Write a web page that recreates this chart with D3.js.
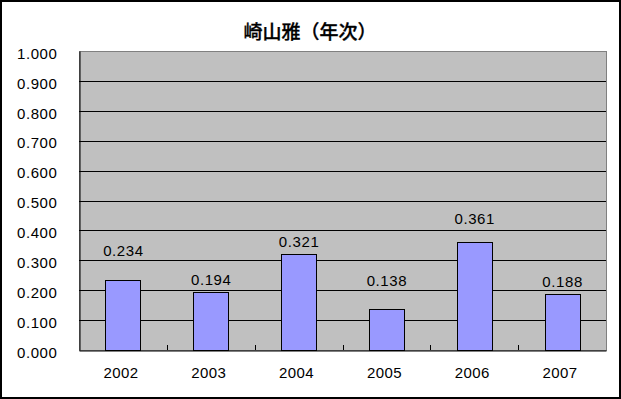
<!DOCTYPE html>
<html>
<head>
<meta charset="utf-8">
<script src="https://cdn.jsdelivr.net/npm/d3@7"></script>
<style>
    body { margin: 0; background: #ffffff; }
    #chart { width: 621px; height: 399px; }
    text { font-family: "Liberation Sans", Arial, sans-serif; }
</style>
</head>
<body>
<div id="chart"></div>
<script>
const TITLE = "崎山雅（年次）";
const years = ["2002", "2003", "2004", "2005", "2006", "2007"];
const values = [0.234, 0.194, 0.321, 0.138, 0.361, 0.188];
const yTicks = [0, 0.1, 0.2, 0.3, 0.4, 0.5, 0.6, 0.7, 0.8, 0.9, 1.0];
// labels were nudged by hand in the original, keep the lift (px above bar top)
const labelLift = [24, 7, 7, 23, 18, 7];

const SVG_WIDTH = 621;
const SVG_HEIGHT = 399;
const PLOT = {left: 79, right: 606, top: 51, bottom: 350};

const svg = d3.select("#chart")
    .append("svg")
    .attr("width", SVG_WIDTH)
    .attr("height", SVG_HEIGHT);

// outer frame
svg.append("rect")
    .attr("x", 1).attr("y", 1)
    .attr("width", SVG_WIDTH - 2).attr("height", SVG_HEIGHT - 2)
    .attr("fill", "#ffffff")
    .attr("stroke", "#000000")
    .attr("stroke-width", 2);

svg.append("text")
    .attr("x", 310)
    .attr("y", 39)
    .attr("text-anchor", "middle")
    .style("font-family", "'Noto Sans CJK JP', sans-serif")
    .style("font-size", "19px")
    .style("font-weight", 500)
    .style("stroke", "#000000")
    .style("stroke-width", 0.3)
    .text(TITLE);

const x = d3.scaleBand()
    .domain(years)
    .range([PLOT.left, PLOT.right])
    .paddingInner(0.6)
    .paddingOuter(0.3);

const xBand = d3.scaleBand()
    .domain(years)
    .range([PLOT.left, PLOT.right]);

const y = d3.scaleLinear()
    .domain([0, 1])
    .range([PLOT.bottom, PLOT.top]);

// plot area
svg.append("rect")
    .attr("x", PLOT.left + 0.5).attr("y", PLOT.top + 0.5)
    .attr("width", PLOT.right - PLOT.left).attr("height", PLOT.bottom - PLOT.top)
    .attr("fill", "#c0c0c0")
    .attr("stroke", "#808080");

// gridlines
svg.append("g")
    .selectAll("line")
    .data(yTicks.filter(t => t > 0 && t < 1))
    .join("line")
    .attr("x1", PLOT.left).attr("x2", PLOT.right)
    .attr("y1", d => Math.round(y(d)) + 0.5)
    .attr("y2", d => Math.round(y(d)) + 0.5)
    .attr("stroke", "#000000");

// y axis labels
const yAxis = svg.append("g")
    .attr("transform", `translate(${PLOT.left + 0.5},0)`)
    .call(d3.axisLeft(y).tickValues(yTicks).tickFormat(d3.format(".3f")).tickSize(0).tickPadding(22));
yAxis.select(".domain").attr("stroke", "#000000");
yAxis.selectAll("text")
    .attr("dy", "0.48em")
    .style("font-size", "15px")
    .style("letter-spacing", "0.6px")
    .attr("fill", "#000000");

// bars
svg.append("g")
    .selectAll("rect")
    .data(values)
    .join("rect")
    .attr("x", (d, i) => Math.round(x(years[i])) + 0.5)
    .attr("y", d => Math.round(y(d)) + 0.5)
    .attr("width", Math.round(x.bandwidth()))
    .attr("height", d => Math.round(y(0)) - Math.round(y(d)))
    .attr("fill", "#9999ff")
    .attr("stroke", "#000000");

// data labels
svg.append("g")
    .selectAll("text")
    .data(values)
    .join("text")
    .attr("x", (d, i) => x(years[i]) + x.bandwidth() / 2 + 0.5)
    .attr("y", (d, i) => y(d) - labelLift[i])
    .attr("text-anchor", "middle")
    .style("font-size", "15px")
    .style("letter-spacing", "0.6px")
    .text(d => d3.format(".3f")(d));

// x axis: ticks point up into the plot
const xAxis = svg.append("g")
    .attr("transform", `translate(0,${PLOT.bottom + 0.5})`)
    .call(d3.axisBottom(xBand).tickSize(0).tickPadding(17));
xAxis.select(".domain").attr("stroke", "#000000");
xAxis.selectAll("text")
    .attr("dx", "-2px")
    .style("font-size", "15px")
    .style("letter-spacing", "0.4px")
    .attr("fill", "#000000");

svg.append("g")
    .selectAll("line")
    .data(years.slice(1))
    .join("line")
    .attr("x1", d => Math.round(xBand(d)) + 0.5)
    .attr("x2", d => Math.round(xBand(d)) + 0.5)
    .attr("y1", PLOT.bottom - 5)
    .attr("y2", PLOT.bottom)
    .attr("stroke", "#000000");
</script>
</body>
</html>
